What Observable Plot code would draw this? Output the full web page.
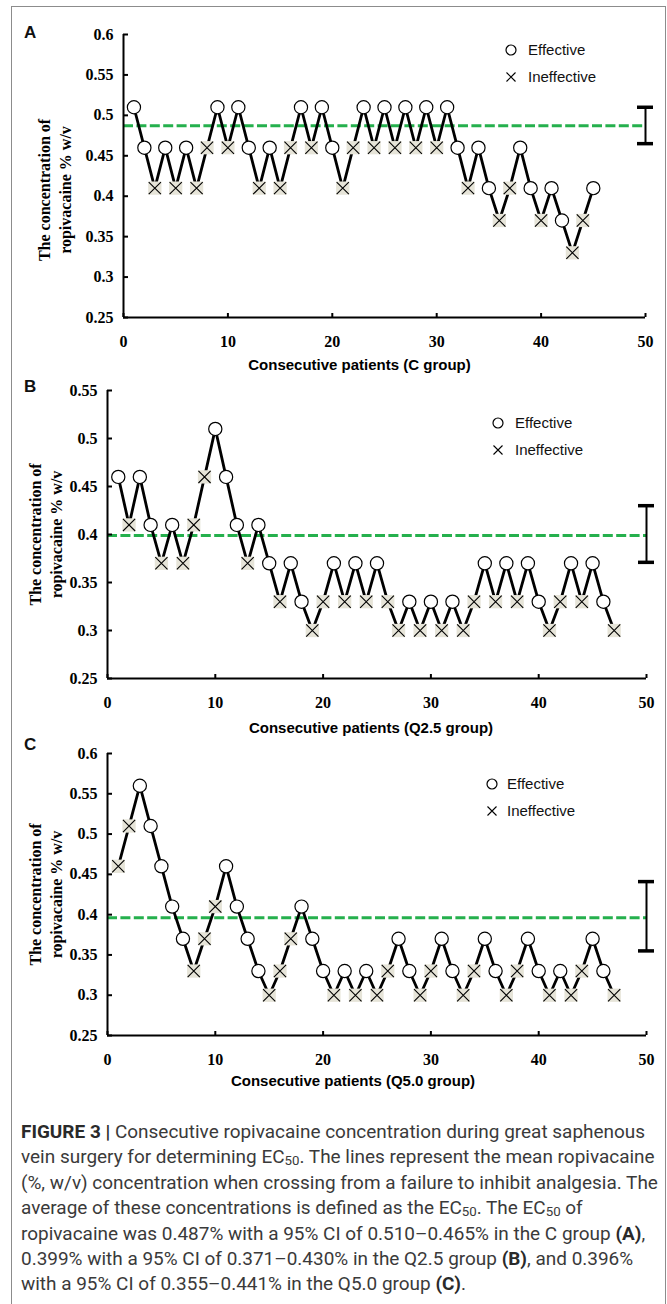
<!DOCTYPE html>
<html><head><meta charset="utf-8">
<script src="https://cdn.jsdelivr.net/npm/d3@7"></script>
<script src="https://cdn.jsdelivr.net/npm/@observablehq/plot@0.6"></script>
<style>
html,body{margin:0;padding:0;background:#fff;}
body{width:667px;height:1304px;position:relative;overflow:hidden;}
#frame{position:absolute;left:11px;top:6px;width:655px;height:1320px;border:1px solid #8c8c8c;box-sizing:border-box;pointer-events:none;}
.panel{position:absolute;left:0;}
.panel svg{display:block;}
.letter{position:absolute;font:bold 17px "Liberation Sans",Arial,sans-serif;color:#111;line-height:20px;}
.legend{position:absolute;font:15px "Liberation Sans",Arial,sans-serif;color:#111;}
.legend .row{position:absolute;left:0;height:20px;line-height:20px;white-space:nowrap;display:flex;align-items:center;}
.legend .sym{width:12px;height:12px;display:inline-block;margin-right:5px;margin-left:-6px;}
#caption{position:absolute;left:21px;top:1120px;font:17.5px Roboto,"Liberation Sans",sans-serif;color:#3a3a3a;line-height:25.4px;}
#caption .ln{white-space:nowrap;transform-origin:0 0;}
#caption b{font-weight:bold;color:#2a2a2a;}
#caption sub{font-size:0.7em;vertical-align:-0.2em;line-height:0;}
</style></head>
<body>
<div id="root"></div>
<script>
// ---------------- data ----------------
const xTicks = [0, 10, 20, 30, 40, 50];
const yTicksA = [0.25, 0.3, 0.35, 0.4, 0.45, 0.5, 0.55, 0.6];
const yTicksB = [0.25, 0.3, 0.35, 0.4, 0.45, 0.5, 0.55];
const yTicksC = [0.25, 0.3, 0.35, 0.4, 0.45, 0.5, 0.55, 0.6];

// C group (A)
const concA = [0.51,0.46,0.41,0.46,0.41, 0.46,0.41,0.46,0.51,0.46, 0.51,0.46,0.41,0.46,0.41,
               0.46,0.51,0.46,0.51,0.46, 0.41,0.46,0.51,0.46,0.51, 0.46,0.51,0.46,0.51,0.46,
               0.51,0.46,0.41,0.46,0.41, 0.37,0.41,0.46,0.41,0.37, 0.41,0.37,0.33,0.37,0.41];
const outcomeA = "EEXEX EXXEX EEXEX XEXEE XXEXE XEXEX EEXEE XXEEX EEXXE".replace(/ /g, "").split("");
// Q2.5 group (B)
const concB = [0.46,0.41,0.46,0.41,0.37, 0.41,0.37,0.41,0.46,0.51, 0.46,0.41,0.37,0.41,0.37,
               0.33,0.37,0.33,0.30,0.33, 0.37,0.33,0.37,0.33,0.37, 0.33,0.30,0.33,0.30,0.33,
               0.30,0.33,0.30,0.33,0.37, 0.33,0.37,0.33,0.37,0.33, 0.30,0.33,0.37,0.33,0.37,
               0.33,0.30];
const outcomeB = "EXEEX EXXXE EEXEE XEEXX EXEXE XXEXE XEXXE XEXEE XXEXE EX".replace(/ /g, "").split("");
// Q5.0 group (C)
const concC = [0.46,0.51,0.56,0.51,0.46, 0.41,0.37,0.33,0.37,0.41, 0.46,0.41,0.37,0.33,0.30,
               0.33,0.37,0.41,0.37,0.33, 0.30,0.33,0.30,0.33,0.30, 0.33,0.37,0.33,0.30,0.33,
               0.37,0.33,0.30,0.33,0.37, 0.33,0.30,0.33,0.37,0.33, 0.30,0.33,0.30,0.33,0.37,
               0.33,0.30];
const outcomeC = "XXEEE EEXXX EEEEX XXEEE XEXEX XEEXX EEXXE EXXEE XEXXE EX".replace(/ /g, "").split("");

const ec50 = {A: 0.487, B: 0.399, C: 0.396};
const ciLo = {A: 0.465, B: 0.371, C: 0.355};
const ciHi = {A: 0.510, B: 0.430, C: 0.441};
const ciAt = 50;

const yTitle = "The concentration of\nropivacaine % w/v";
const xTitles = {A: "Consecutive patients (C group)", B: "Consecutive patients (Q2.5 group)", C: "Consecutive patients (Q5.0 group)"};
const legendLabels = ["Effective", "Ineffective"];

// ---------------- drawing ----------------
const GREEN = "#25b04d";
const XFILL = "#e6e4d8";
const serif = "'Liberation Serif','Times New Roman',serif";
const sans = "'Liberation Sans',Arial,sans-serif";
const fmt = d => String(+(+d).toFixed(2));

function panel(cfg) {
  const data = cfg.conc.map((c, i) => ({n: i + 1, c, o: cfg.outcome[i]}));
  const eff = data.filter(d => d.o === "E");
  const ineff = data.filter(d => d.o === "X");
  return Plot.plot({
    width: 667, height: cfg.height,
    marginTop: cfg.mt, marginBottom: cfg.mb, marginLeft: cfg.ml, marginRight: cfg.mr,
    x: {domain: [0, 50]},
    y: {domain: [0.25, cfg.ymax]},
    style: {background: "transparent", overflow: "visible", color: "#000"},
    marks: [
      Plot.ruleY([cfg.ec], {stroke: GREEN, strokeWidth: 3, strokeDasharray: "10,3.4"}),
      Plot.ruleX([ciAt], {y1: cfg.lo, y2: cfg.hi, stroke: "#000", strokeWidth: 2}),
      Plot.ruleY([cfg.lo, cfg.hi], {x1: ciAt, x2: ciAt, insetLeft: -8, insetRight: -8, stroke: "#000", strokeWidth: 3.5}),
      Plot.line(data, {x: "n", y: "c", stroke: "#000", strokeWidth: 2.8, strokeLinejoin: "miter"}),
      Plot.dot(ineff, {x: "n", y: "c", symbol: "square", r: 7.5, fill: XFILL, stroke: null}),
      Plot.dot(ineff, {x: "n", y: "c", symbol: "times", r: 5.6, stroke: "#000", strokeWidth: 1.1}),
      Plot.dot(eff, {x: "n", y: "c", r: 6.6, fill: "#fff", stroke: "#000", strokeWidth: 1.2}),
      Plot.ruleX([0], {stroke: "#000", strokeWidth: 2}),
      Plot.ruleY([0.25], {stroke: "#000", strokeWidth: 2}),
      Plot.axisY({ticks: cfg.yTicks, tickSize: -5, tickPadding: 15, tickFormat: fmt, label: null,
        fontFamily: serif, fontWeight: "bold", fontSize: 16, strokeWidth: 2, fill: "#000"}),
      Plot.axisX({ticks: xTicks, tickSize: -4, tickPadding: 22, tickFormat: fmt, label: null,
        fontFamily: serif, fontWeight: "bold", fontSize: 16, strokeWidth: 2, fill: "#000"}),
      Plot.text([yTitle], {frameAnchor: "left", textAnchor: "middle", lineAnchor: "middle", rotate: -90,
        dx: cfg.ytdx, dy: cfg.ytdy, lineHeight: 1.3,
        fontFamily: serif, fontWeight: "bold", fontSize: 16, fill: "#000"}),
      Plot.text([cfg.xTitle], {frameAnchor: "bottom", lineAnchor: "bottom", dx: cfg.xtdx, dy: cfg.xtdy,
        fontFamily: sans, fontWeight: "bold", fontSize: 15, fill: "#000"})
    ]
  });
}

const panels = [
  {key: "A", top: 0, height: 370, mt: 34, mb: 53, ml: 123, mr: 22, ymax: 0.6, yTicks: yTicksA,
   conc: concA, outcome: outcomeA, ytdx: -70, ytdy: 14, xtdx: -25, xtdy: 52,
   letterY: 23, leg: {x: 511, y: 50, tx: 528}},
  {key: "B", top: 370, height: 360, mt: 20, mb: 52, ml: 107, mr: 21, ymax: 0.55, yTicks: yTicksB,
   conc: concB, outcome: outcomeB, ytdx: -63, ytdy: 0, xtdx: -6, xtdy: 54,
   letterY: 377, leg: {x: 498, y: 423, tx: 515}},
  {key: "C", top: 730, height: 360, mt: 23, mb: 55, ml: 107, mr: 21, ymax: 0.6, yTicks: yTicksC,
   conc: concC, outcome: outcomeC, ytdx: -63, ytdy: 0, xtdx: -24, xtdy: 50,
   letterY: 735, leg: {x: 492, y: 784, tx: 507}}
];

const root = document.getElementById("root");
for (const p of panels) {
  const wrap = document.createElement("div");
  wrap.className = "panel";
  wrap.style.top = p.top + "px";
  wrap.appendChild(panel({...p, ec: ec50[p.key], lo: ciLo[p.key], hi: ciHi[p.key], xTitle: xTitles[p.key]}));
  root.appendChild(wrap);

  const letter = document.createElement("div");
  letter.className = "letter";
  letter.style.left = "24px";
  letter.style.top = p.letterY + "px";
  letter.textContent = p.key;
  root.appendChild(letter);

  const leg = document.createElement("div");
  leg.className = "legend";
  leg.style.left = p.leg.x + "px";
  leg.style.top = "0px";
  const dy = 27;
  legendLabels.forEach((lab, i) => {
    const row = document.createElement("div");
    row.className = "row";
    row.style.top = (p.leg.y + i * dy - 10) + "px";
    const sym = i === 0
      ? `<svg class="sym" viewBox="-6 -6 12 12"><circle r="5" fill="#fff" stroke="#000" stroke-width="1.2"/></svg>`
      : `<svg class="sym" viewBox="-6 -6 12 12"><path d="M-4.5,-4.5L4.5,4.5M-4.5,4.5L4.5,-4.5" stroke="#000" stroke-width="1.1"/></svg>`;
    row.innerHTML = sym + `<span style="margin-left:${p.leg.tx - p.leg.x - 6 - 5}px">${lab}</span>`;
    leg.appendChild(row);
  });
  root.appendChild(leg);
}

// caption
const capLines = [
  '<b>FIGURE 3 |</b> Consecutive ropivacaine concentration during great saphenous',
  'vein surgery for determining EC<sub>50</sub>. The lines represent the mean ropivacaine',
  '(%, w/v) concentration when crossing from a failure to inhibit analgesia. The',
  'average of these concentrations is defined as the EC<sub>50</sub>. The EC<sub>50</sub> of',
  'ropivacaine was 0.487% with a 95% CI of 0.510–0.465% in the C group <b>(A)</b>,',
  '0.399% with a 95% CI of 0.371–0.430% in the Q2.5 group <b>(B)</b>, and 0.396%',
  'with a 95% CI of 0.355–0.441% in the Q5.0 group <b>(C)</b>.'
];
const cap = document.createElement("div");
cap.id = "caption";
cap.innerHTML = capLines.map(l => `<div class="ln"><span>${l}</span></div>`).join("");
root.appendChild(cap);
function fitCaption() {
  const first = cap.querySelector(".ln span");
  const w = first.offsetWidth;
  const s = 624 / w;
  cap.querySelectorAll(".ln").forEach(el => el.style.transform = `scaleX(${s})`);
}
fitCaption();
if (document.fonts && document.fonts.ready) document.fonts.ready.then(fitCaption);

const frame = document.createElement("div");
frame.id = "frame";
root.appendChild(frame);
</script>
</body></html>
